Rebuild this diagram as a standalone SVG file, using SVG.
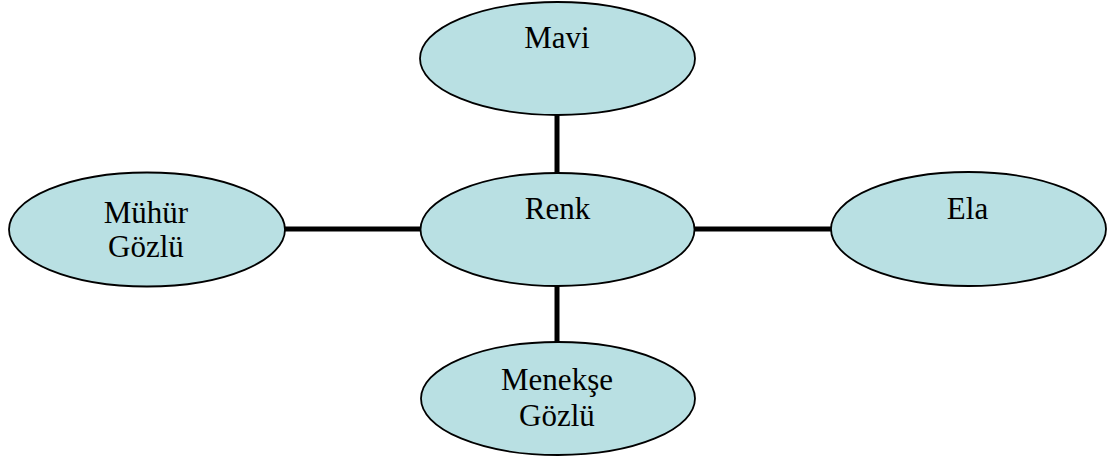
<svg xmlns="http://www.w3.org/2000/svg" width="1111" height="462" viewBox="0 0 1111 462">
<style>
.n{fill:#b9e0e3;stroke:#000;stroke-width:1.8}
.t{font-family:'Liberation Serif','Times New Roman',Times,'DejaVu Serif','Noto Serif',serif;font-size:31px;fill:#000;text-anchor:middle}
.c{stroke:#000;stroke-width:5;fill:none}
</style>
<rect width="1111" height="462" fill="#fff"/>
<g id="connectors">
<line class="c" x1="557" y1="115" x2="557" y2="173"/>
<line class="c" x1="557" y1="286" x2="557" y2="342"/>
<line class="c" x1="285" y1="229" x2="421" y2="229"/>
<line class="c" x1="694" y1="229" x2="831" y2="229"/>
</g>
<g id="mavi">
<ellipse class="n" cx="557.5" cy="58.5" rx="137.5" ry="56.5"/>
<text class="t" x="557" y="48" font-family="Liberation Serif, serif">Mavi</text>
</g>
<g id="renk">
<ellipse class="n" cx="557.5" cy="229.5" rx="137" ry="56.5"/>
<text class="t" x="557.5" y="219" font-family="Liberation Serif, serif">Renk</text>
</g>
<g id="muhur">
<ellipse class="n" cx="147" cy="229.5" rx="138" ry="57"/>
<text class="t" x="146" y="223" font-family="Liberation Serif, serif">Mühür</text>
<text class="t" x="146" y="257" font-family="Liberation Serif, serif">Gözlü</text>
</g>
<g id="ela">
<ellipse class="n" cx="968.5" cy="229" rx="137.5" ry="57"/>
<text class="t" x="967.5" y="219" font-family="Liberation Serif, serif">Ela</text>
</g>
<g id="menekse">
<ellipse class="n" cx="558" cy="398.5" rx="137" ry="56.5"/>
<text class="t" x="557" y="390" font-family="Liberation Serif, serif">Menekşe</text>
<text class="t" x="557" y="426" font-family="Liberation Serif, serif">Gözlü</text>
</g>
</svg>
